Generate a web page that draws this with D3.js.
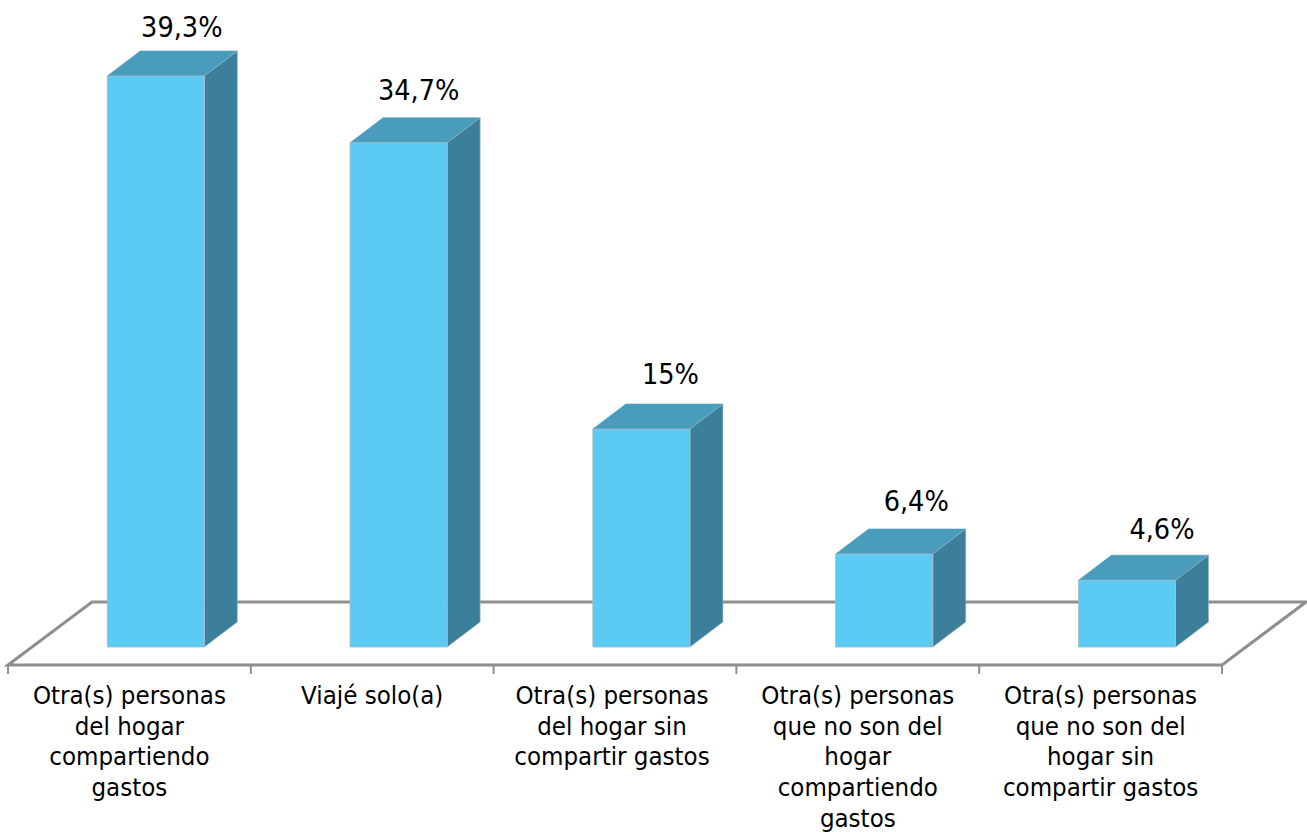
<!DOCTYPE html>
<html><head><meta charset="utf-8">
<script src="https://cdn.jsdelivr.net/npm/d3@7/dist/d3.min.js"></script>
<style>html,body{margin:0;padding:0;background:#fff}svg{display:block}
text{font-family:"DejaVu Sans";font-stretch:condensed;fill:#000}</style></head>
<body><div id="chart"></div>
<script>
const categories=[
 ["Otra(s) personas","del hogar","compartiendo","gastos"],
 ["Viajé solo(a)"],
 ["Otra(s) personas","del hogar sin","compartir gastos"],
 ["Otra(s) personas","que no son del","hogar","compartiendo","gastos"],
 ["Otra(s) personas","que no son del","hogar sin","compartir gastos"]];
const values=[39.3,34.7,15,6.4,4.6];
const valueLabels=["39,3%","34,7%","15%","6,4%","4,6%"];
const W=1307,H=832;
const floorLeft=8,floorRight=1222,floorY=665,floorDx=84,floorDy=-63;
const barShiftX=26,barShiftY=-18,depthX=33,depthY=-25;
const labelNudgeX=[0,-6,3,6,9];
const labelNudgeY=[0,-4,-6,-4.5,-2];
const catLabelNudge=[0,0,-3,0,0];
const x=d3.scaleBand().domain(d3.range(values.length)).range([floorLeft,floorRight]).paddingInner(0).paddingOuter(0);
const y=d3.scaleLinear().domain([0,39.3]).range([floorY+barShiftY,76]);
const barW=x.bandwidth()*0.4;
const svg=d3.select("#chart").append("svg").attr("width",W).attr("height",H);
const grey="#8f8f8f";
svg.append("path").attr("d",`M${floorLeft},${floorY}L${floorLeft+floorDx},${floorY+floorDy}L${floorRight+floorDx},${floorY+floorDy}L${floorRight},${floorY}Z`)
 .attr("fill","#fff").attr("stroke",grey).attr("stroke-width",3);
svg.selectAll("line.tick").data(d3.range(values.length+1)).join("line")
 .attr("x1",i=>floorLeft+i*x.bandwidth()).attr("x2",i=>floorLeft+i*x.bandwidth())
 .attr("y1",floorY).attr("y2",floorY+9).attr("stroke",grey).attr("stroke-width",2);
const g=svg.selectAll("g.bar").data(values).join("g").attr("class","bar");
const left=i=>x(i)+x.bandwidth()/2+barShiftX-barW/2+.4;
g.append("path").attr("fill","#4a9cbd").attr("stroke","#4a9cbd").attr("stroke-width",.6)
 .attr("d",(d,i)=>`M${left(i)},${y(d)}l${depthX},${depthY}h${barW}l${-depthX},${-depthY}Z`);
g.append("path").attr("fill","#3b7f9b").attr("stroke","#a9b9c2").attr("stroke-width",.6)
 .attr("d",(d,i)=>`M${left(i)+barW},${y(d)}l${depthX},${depthY}V${y(0)+depthY}l${-depthX},${-depthY}Z`);
g.append("rect").attr("x",(d,i)=>left(i)).attr("y",d=>y(d)).attr("width",barW).attr("height",d=>y(0)-y(d))
 .attr("fill","#5bcbf3").attr("stroke","#a6bcc6").attr("stroke-width",.8);
g.append("text").attr("x",(d,i)=>left(i)+barW/2+barShiftX+labelNudgeX[i]).attr("y",(d,i)=>y(d)-39+labelNudgeY[i])
 .attr("text-anchor","middle").attr("font-size",28.5).text((d,i)=>valueLabels[i]);
svg.selectAll("text.cat").data(categories).join("text").attr("class","cat")
 .attr("text-anchor","middle").attr("font-size",25.6)
 .each(function(lines,i){d3.select(this).selectAll("tspan").data(lines).join("tspan")
   .attr("x",x(i)+x.bandwidth()/2+catLabelNudge[i]).attr("y",(l,j)=>704+j*30.7).text(l=>l);});
</script></body></html>
